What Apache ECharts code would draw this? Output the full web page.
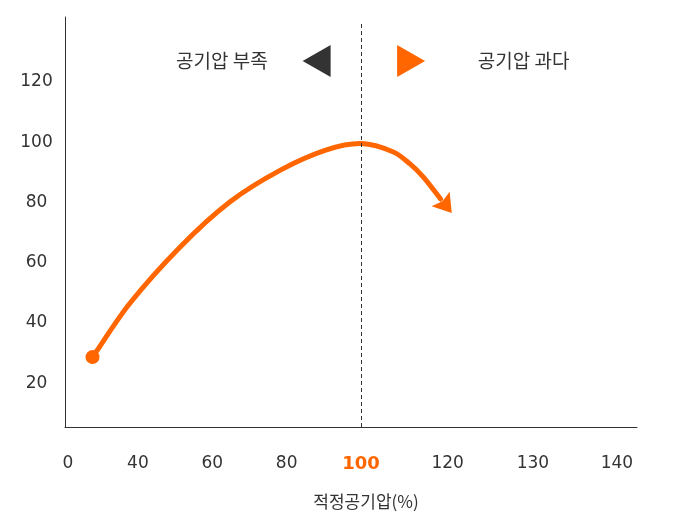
<!DOCTYPE html>
<html>
<head>
<meta charset="utf-8">
<script src="https://cdn.jsdelivr.net/npm/echarts@6/dist/echarts.min.js"></script>
<style>
html,body{margin:0;padding:0;background:#fff;}
#chart{width:677px;height:532px;}
</style>
</head>
<body>
<div id="chart"></div>
<script>
// ---- data ----
const xTickLabels = ['0', '40', '60', '80', '100', '120', '130', '140'];
const xTickValues = [21.2, 40, 60, 80, 100, 123.3, 146.2, 168.8];
const yTickValues = [20, 40, 60, 80, 100, 120];
const curveX = [27.8, 37.8, 51.3, 64.7, 78.2, 90.7, 100.2, 108.7, 113.1, 116.7, 124.4];
const curveY = [28.7, 46.5, 65.2, 80.2, 90.7, 97.5, 99.6, 96.8, 92.9, 88.5, 76.5];
const optimalX = 100;
const annotationLabels = ['공기압 부족', '공기압 과다'];
const annotationX = [62.6, 143.7];
const markerX = [88.05, 113.46];
const annotationY = 127;
const xName = '적정공기압(%)';

// ---- styles ----
const ORANGE = '#ff6600';
const DARK = '#333333';
const ARROW_LEN = 18;
const ARROW_HALF = 11.5;
const ARROW_NOTCH = 3;

function renderCurve(params, api) {
  const pts = curveX.map((x, i) => api.coord([x, curveY[i]]));
  const tip = pts[pts.length - 1];
  const prev = pts[pts.length - 2];
  let dx = tip[0] - prev[0], dy = tip[1] - prev[1];
  const len = Math.sqrt(dx * dx + dy * dy);
  dx /= len; dy /= len;
  const base = [tip[0] - dx * ARROW_LEN, tip[1] - dy * ARROW_LEN];
  const p = pts.slice(0, -1).concat([base]);
  const m = p.length;
  const dist = [];
  for (let i = 0; i < m - 1; i++) dist.push(Math.hypot(p[i + 1][0] - p[i][0], p[i + 1][1] - p[i][1]));
  const tan = p.map((pt, i) => {
    if (i === 0) return [(p[1][0] - p[0][0]) / dist[0], (p[1][1] - p[0][1]) / dist[0]];
    if (i === m - 1) return [(p[m - 1][0] - p[m - 2][0]) / dist[m - 2], (p[m - 1][1] - p[m - 2][1]) / dist[m - 2]];
    const s = dist[i - 1] + dist[i];
    return [(p[i + 1][0] - p[i - 1][0]) / s, (p[i + 1][1] - p[i - 1][1]) / s];
  });
  let d = 'M' + p[0][0] + ' ' + p[0][1];
  for (let i = 0; i < m - 1; i++) {
    const k = dist[i] / 3;
    const c1 = [p[i][0] + tan[i][0] * k, p[i][1] + tan[i][1] * k];
    const c2 = [p[i + 1][0] - tan[i + 1][0] * k, p[i + 1][1] - tan[i + 1][1] * k];
    d += ' C' + c1[0] + ' ' + c1[1] + ' ' + c2[0] + ' ' + c2[1] + ' ' + p[i + 1][0] + ' ' + p[i + 1][1];
  }
  const nx = -dy, ny = dx;
  const arrowPts = [
    tip,
    [base[0] + nx * ARROW_HALF, base[1] + ny * ARROW_HALF],
    [base[0] + dx * ARROW_NOTCH, base[1] + dy * ARROW_NOTCH],
    [base[0] - nx * ARROW_HALF, base[1] - ny * ARROW_HALF]
  ];
  return {
    type: 'group',
    children: [
      { type: 'path', shape: { pathData: d }, style: { stroke: ORANGE, lineWidth: 5, fill: null, lineCap: 'round', lineJoin: 'round' } },
      { type: 'polygon', shape: { points: arrowPts }, style: { fill: ORANGE, stroke: null } }
    ]
  };
}

const option = {
  animation: false,
  grid: { left: 65, right: 40, top: 17, height: 410 },
  xAxis: {
    type: 'value',
    min: 20.4,
    max: 174.2,
    name: xName,
    nameLocation: 'middle',
    nameGap: 66,
    nameTextStyle: { fontFamily: 'Noto Sans CJK KR', fontSize: 17, color: DARK, verticalAlign: 'top', padding: [0, 0, 0, 30] },
    axisLine: { show: true, lineStyle: { color: DARK, width: 1 } },
    axisTick: { show: false },
    splitLine: { show: false },
    axisLabel: {
      customValues: xTickValues,
      margin: 28,
      fontFamily: 'DejaVu Sans',
      fontSize: 17,
      color: DARK,
      formatter: function (v) {
        let idx = 0, best = Infinity;
        xTickValues.forEach((t, i) => { if (Math.abs(t - v) < best) { best = Math.abs(t - v); idx = i; } });
        const s = xTickLabels[idx];
        return xTickValues[idx] === optimalX ? '{hl|' + s + '}' : s;
      },
      rich: {
        hl: { fontFamily: 'DejaVu Sans', fontSize: 18, fontWeight: 'bold', color: ORANGE }
      }
    }
  },
  yAxis: {
    type: 'value',
    min: 5.5,
    max: 141.6,
    axisLine: { show: true, lineStyle: { color: DARK, width: 1 } },
    axisTick: { show: false },
    splitLine: { show: false },
    axisLabel: {
      customValues: yTickValues,
      align: 'center',
      margin: 28.5,
      fontFamily: 'DejaVu Sans',
      fontSize: 17,
      color: DARK
    }
  },
  series: [
    {
      type: 'custom',
      coordinateSystem: 'cartesian2d',
      data: [[curveX[0], curveY[0]]],
      renderItem: renderCurve,
      clip: false,
      silent: true,
      z: 3
    },
    {
      type: 'scatter',
      data: [[curveX[0], curveY[0]]],
      symbol: 'circle',
      symbolSize: 14,
      itemStyle: { color: ORANGE, opacity: 1 },
      silent: true,
      z: 4
    },
    {
      type: 'line',
      data: [],
      markLine: {
        silent: true,
        symbol: ['none', 'none'],
        label: { show: false },
        lineStyle: { color: DARK, width: 1, type: [4, 3] },
        data: [[
          { coord: [optimalX, 5.5] },
          { coord: [optimalX, 139.6] }
        ]]
      },
      markPoint: {
        silent: true,
        data: [
          { coord: [markerX[0], annotationY], symbol: 'triangle', symbolSize: [32, 28], symbolRotate: 90, itemStyle: { color: DARK }, label: { show: false } },
          { coord: [markerX[1], annotationY], symbol: 'triangle', symbolSize: [32, 28], symbolRotate: -90, itemStyle: { color: ORANGE }, label: { show: false } },
          { coord: [annotationX[0], annotationY], symbol: 'rect', symbolSize: 1, itemStyle: { color: 'rgba(0,0,0,0)' },
            label: { show: true, position: 'inside', formatter: annotationLabels[0], fontFamily: 'Noto Sans CJK KR', fontSize: 19, color: DARK } },
          { coord: [annotationX[1], annotationY], symbol: 'rect', symbolSize: 1, itemStyle: { color: 'rgba(0,0,0,0)' },
            label: { show: true, position: 'inside', formatter: annotationLabels[1], fontFamily: 'Noto Sans CJK KR', fontSize: 19, color: DARK } }
        ]
      }
    }
  ]
};

const chart = echarts.init(document.getElementById('chart'), null, { renderer: 'canvas' });
chart.setOption(option);
</script>
</body>
</html>
